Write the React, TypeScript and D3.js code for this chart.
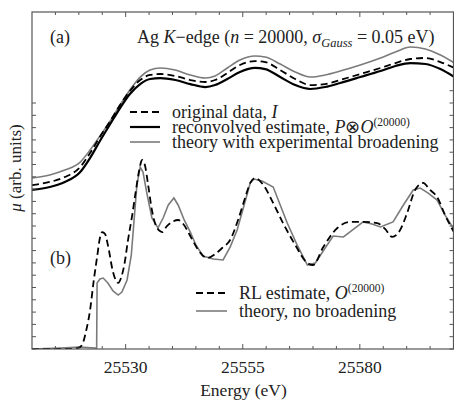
import React from "react";
import * as d3 from "d3";

// Panel (a): smooth broadened spectra
const energyA = [25510.0, 25513.8, 25517.0, 25520.3, 25522.4, 25524.5, 25526.7, 25528.8, 25530.9, 25533.1, 25535.2, 25537.4, 25540.6, 25543.8, 25547.0, 25549.1, 25551.7, 25554.4, 25557.6, 25559.8, 25563.0, 25566.2, 25569.4, 25572.6, 25575.8, 25580.1, 25584.4, 25587.6, 25590.8, 25594.0, 25597.2, 25600.2];
const originalA = [1.333, 1.358, 1.398, 1.480, 1.593, 1.724, 1.854, 1.984, 2.098, 2.187, 2.228, 2.236, 2.220, 2.187, 2.171, 2.187, 2.244, 2.309, 2.341, 2.333, 2.268, 2.195, 2.146, 2.154, 2.187, 2.236, 2.285, 2.325, 2.358, 2.366, 2.333, 2.285];
const reconvolvedA = [1.293, 1.317, 1.358, 1.439, 1.553, 1.691, 1.829, 1.959, 2.073, 2.154, 2.195, 2.203, 2.187, 2.154, 2.130, 2.146, 2.195, 2.252, 2.285, 2.276, 2.211, 2.146, 2.114, 2.130, 2.163, 2.211, 2.260, 2.301, 2.325, 2.317, 2.276, 2.211];
const theoryBroadA = [1.390, 1.415, 1.455, 1.520, 1.618, 1.732, 1.854, 1.984, 2.106, 2.211, 2.268, 2.285, 2.268, 2.228, 2.203, 2.220, 2.285, 2.350, 2.382, 2.374, 2.317, 2.252, 2.211, 2.228, 2.260, 2.309, 2.366, 2.415, 2.455, 2.439, 2.390, 2.325];

// Panel (b): RL estimate
const energyRL = [25510.0, 25518.1, 25519.8, 25520.7, 25521.5, 25522.4, 25523.2, 25523.9, 25524.5, 25525.0, 25525.6, 25526.2, 25527.3, 25528.4, 25529.0, 25529.7, 25530.5, 25531.4, 25532.2, 25532.9, 25533.5, 25534.1, 25534.8, 25535.6, 25536.7, 25537.8, 25538.8, 25539.9, 25541.2, 25542.3, 25543.8, 25545.5, 25547.4, 25549.1, 25550.6, 25552.3, 25554.0, 25555.5, 25556.6, 25557.6, 25559.4, 25561.5, 25563.6, 25566.2, 25568.8, 25570.0, 25572.2, 25575.2, 25577.9, 25580.7, 25583.7, 25585.4, 25586.9, 25588.6, 25590.1, 25591.8, 25593.5, 25595.0, 25596.5, 25598.2, 25600.2];
const rlEstimateB = [0, 0, 0.008, 0.033, 0.138, 0.317, 0.561, 0.748, 0.902, 0.951, 0.935, 0.846, 0.626, 0.537, 0.577, 0.683, 0.886, 1.089, 1.293, 1.455, 1.537, 1.496, 1.333, 1.130, 0.984, 0.951, 1.000, 1.033, 1.049, 1.016, 0.919, 0.805, 0.740, 0.772, 0.821, 0.886, 1.049, 1.228, 1.350, 1.390, 1.333, 1.187, 1.024, 0.846, 0.699, 0.683, 0.829, 0.984, 1.033, 1.033, 1.024, 0.976, 0.911, 0.967, 1.106, 1.293, 1.350, 1.293, 1.236, 1.089, 0.943];

// Panel (b): theory without broadening
const energyTh = [25510.0, 25516.0, 25520.3, 25523.5, 25523.8, 25523.9, 25524.5, 25525.2, 25526.2, 25527.3, 25528.4, 25529.2, 25530.3, 25531.2, 25531.8, 25532.4, 25533.1, 25533.7, 25534.6, 25535.6, 25536.9, 25538.0, 25539.1, 25540.3, 25541.2, 25542.5, 25543.8, 25545.0, 25546.5, 25548.7, 25550.8, 25552.3, 25553.8, 25555.3, 25556.6, 25557.4, 25559.1, 25561.5, 25563.0, 25564.5, 25566.6, 25568.8, 25570.5, 25572.6, 25574.3, 25576.5, 25578.4, 25580.7, 25582.6, 25584.4, 25587.1, 25589.3, 25591.4, 25592.9, 25594.6, 25596.5, 25598.2, 25600.2];
const theoryB = [0, 0.008, 0.016, 0.008, 0, 0.537, 0.569, 0.577, 0.537, 0.472, 0.439, 0.463, 0.561, 0.764, 1.049, 1.333, 1.480, 1.439, 1.252, 1.065, 0.984, 1.065, 1.171, 1.228, 1.171, 1.049, 0.951, 0.846, 0.756, 0.732, 0.724, 0.829, 0.967, 1.171, 1.350, 1.382, 1.366, 1.317, 1.171, 1.024, 0.846, 0.683, 0.699, 0.821, 0.919, 0.911, 0.967, 1.033, 1.016, 0.992, 1.033, 1.171, 1.293, 1.309, 1.268, 1.211, 1.089, 0.967];

const xTickLabels = [25530, 25555, 25580];
const xMinorStep = 5;
const yMinorStep = 0.1;

const FONT = "'Liberation Serif', 'Times New Roman', serif";

export default function App() {
  const W = 454, H = 400;
  const left = 32, right = 453.5, top = 12, bottom = 349;
  const x = d3.scaleLinear().domain([25510, 25600]).range([left, right]);
  const y = d3.scaleLinear().domain([0, 2.74]).range([bottom, top]);

  const line = (xs: number[], ys: number[], curve = d3.curveMonotoneX) =>
    d3.line<number>().x((_, i) => x(xs[i])).y((d) => y(d)).curve(curve)(ys) || "";

  const xTicks = d3.range(25515, 25600, xMinorStep);
  const yTicksLeft = d3.range(0, 2.001, yMinorStep);
  const yTicksRight = d3.range(0, 2.101, yMinorStep);

  const gray = "#7b7b7b";
  const frame = "#555";
  const ts = { fontFamily: FONT };

  return (
    <svg width={W} height={H} style={{ position: "fixed", left: 0, top: 0, background: "#fff", fontFamily: FONT }}>
      <defs>
        <clipPath id="plot">
          <rect x={left} y={top} width={right - left} height={bottom - top} />
        </clipPath>
      </defs>
      <rect x={0} y={0} width={W} height={H} fill="#fff" />
      <g clipPath="url(#plot)" fill="none">
        <path d={line(energyA, theoryBroadA)} stroke={gray} strokeWidth={1.6} />
        <path d={line(energyA, originalA)} stroke="#000" strokeWidth={1.8} strokeDasharray="7,4" />
        <path d={line(energyA, reconvolvedA)} stroke="#000" strokeWidth={2.2} />
        <path d={line(energyTh, theoryB, d3.curveLinear)} stroke={gray} strokeWidth={1.6} />
        <path d={line(energyRL, rlEstimateB)} stroke="#000" strokeWidth={1.8} strokeDasharray="7,4" />
      </g>
      <rect x={left} y={top} width={right - left} height={bottom - top} fill="none" stroke={frame} strokeWidth={1.2} />
      {xTicks.map((t) => {
        const major = xTickLabels.includes(t);
        const len = major ? 5 : 3;
        return (
          <g key={"xt" + t} stroke={frame} strokeWidth={1}>
            <line x1={x(t)} x2={x(t)} y1={bottom} y2={bottom - len} />
            <line x1={x(t)} x2={x(t)} y1={top} y2={top + len} />
          </g>
        );
      })}
      {yTicksLeft.map((t) => (
        <line key={"yl" + t} x1={left} x2={left + 4} y1={y(t)} y2={y(t)} stroke={frame} strokeWidth={1} />
      ))}
      {yTicksRight.map((t) => (
        <line key={"yr" + t} x1={right} x2={right - 4} y1={y(t)} y2={y(t)} stroke={frame} strokeWidth={1} />
      ))}
      {xTickLabels.map((t) => (
        <text key={"xl" + t} style={ts} x={x(t)} y={373} textAnchor="middle" fontSize={17.5} fill="#222">
          {t}
        </text>
      ))}
      <text style={ts} x={243.5} y={396} textAnchor="middle" fontSize={17.5} fill="#222">Energy (eV)</text>
      <text style={ts} transform="translate(21,168) rotate(-90)" textAnchor="middle" fontSize={17} fill="#222">
        <tspan fontStyle="italic">μ</tspan> (arb. units)
      </text>

      <text style={ts} x={50} y={43} fontSize={18} fill="#222">(a)</text>
      <text style={ts} x={50} y={264} fontSize={18} fill="#222">(b)</text>
      <text style={ts} x={137} y={43} fontSize={18} fill="#222">
        Ag <tspan fontStyle="italic">K</tspan>−edge (<tspan fontStyle="italic">n</tspan> = 20000, <tspan fontStyle="italic">σ</tspan>
        <tspan fontStyle="italic" fontSize={12.5} dy={4}>Gauss</tspan>
        <tspan dy={-4}> = 0.05 eV)</tspan>
      </text>

      <g fill="none">
        <line x1={130} x2={160} y1={112} y2={112} stroke="#000" strokeWidth={1.8} strokeDasharray="7,4" />
        <line x1={130} x2={160} y1={127} y2={127} stroke="#000" strokeWidth={2.2} />
        <line x1={130} x2={160} y1={142} y2={142} stroke={gray} strokeWidth={1.6} />
      </g>
      <g fontSize={18} fill="#222">
        <text style={ts} x={172} y={117.5}>original data, <tspan fontStyle="italic">I</tspan></text>
        <text style={ts} x={172} y={132.5}>
          reconvolved estimate, <tspan fontStyle="italic">P</tspan>⊗<tspan fontStyle="italic">O</tspan>
          <tspan fontSize={11.5} dy={-7}>(20000)</tspan>
        </text>
        <text style={ts} x={172} y={147.5}>theory with experimental broadening</text>
      </g>

      <g fill="none">
        <line x1={196} x2={227} y1={293} y2={293} stroke="#000" strokeWidth={1.8} strokeDasharray="7,4" />
        <line x1={196} x2={227} y1={311} y2={311} stroke={gray} strokeWidth={1.6} />
      </g>
      <g fontSize={18} fill="#222">
        <text style={ts} x={239} y={299}>
          RL estimate, <tspan fontStyle="italic">O</tspan>
          <tspan fontSize={11.5} dy={-7}>(20000)</tspan>
        </text>
        <text style={ts} x={239} y={317}>theory, no broadening</text>
      </g>
    </svg>
  );
}
